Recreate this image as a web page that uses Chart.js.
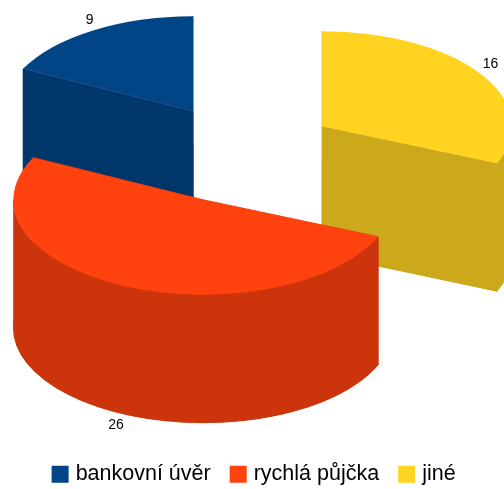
<!DOCTYPE html>
<html>
<head>
<meta charset="utf-8">
<style>
html, body { margin: 0; padding: 0; background: #fff; overflow: hidden; }
#wrap { width: 504px; height: 489px; }
</style>
<script src="https://cdn.jsdelivr.net/npm/chart.js@4/dist/chart.umd.js"></script>
</head>
<body>
<div id="wrap"><canvas id="graf"></canvas></div>
<script>
// drawn clockwise from 12 o'clock, the legend runs the other way
var kategorie = ["jiné", "rychlá půjčka", "bankovní úvěr"];
var hodnoty = [16, 26, 9];

var barvy = ["#ffd320", "#ff420e", "#004586"];
var boky = ["#cca91a", "#cc350b", "#00376b"];

var stred = { x: 243, y: 154 };
var naklon = 0.5;
var naklonVysunuti = 0.53;
var vysunuti = 95;
var hloubka = 128;
var posunPopisku = [[0, -2], [-3, -2], [3, 2]];

var pie3d = {
    id: "pie3d",
    beforeDatasetsDraw: function (chart) {
        var ctx = chart.ctx;
        var oblouky = chart.getDatasetMeta(0).data.map(function (arc, i) {
            var mid = (arc.startAngle + arc.endAngle) / 2;
            return {
                arc: arc,
                i: i,
                mid: mid,
                x: stred.x + Math.cos(mid) * vysunuti,
                y: stred.y + Math.sin(mid) * vysunuti * naklonVysunuti
            };
        });

        // back slices first
        oblouky.sort(function (a, b) { return Math.sin(a.mid) - Math.sin(b.mid); });

        oblouky.forEach(function (o) {
            var a = o.arc;
            var r = a.outerRadius;
            var ry = r * naklon;

            ctx.save();
            ctx.fillStyle = boky[o.i];
            ctx.strokeStyle = boky[o.i];
            ctx.lineWidth = 0.6; // hides the seams between the wall pieces

            // wedge at the bottom
            ctx.beginPath();
            ctx.moveTo(o.x, o.y + hloubka);
            ctx.ellipse(o.x, o.y + hloubka, r, ry, 0, a.startAngle, a.endAngle);
            ctx.closePath();
            ctx.fill();
            ctx.stroke();

            // outer wall, only the part that faces the viewer
            var od = Math.max(a.startAngle, 0);
            var po = Math.min(a.endAngle, Math.PI);
            if (po > od) {
                ctx.beginPath();
                ctx.ellipse(o.x, o.y, r, ry, 0, od, po);
                ctx.ellipse(o.x, o.y + hloubka, r, ry, 0, po, od, true);
                ctx.closePath();
                ctx.fill();
                ctx.stroke();
            }

            // the two cut walls
            [a.startAngle, a.endAngle].forEach(function (uhel) {
                var ex = o.x + Math.cos(uhel) * r;
                var ey = o.y + Math.sin(uhel) * ry;
                ctx.beginPath();
                ctx.moveTo(o.x, o.y);
                ctx.lineTo(ex, ey);
                ctx.lineTo(ex, ey + hloubka);
                ctx.lineTo(o.x, o.y + hloubka);
                ctx.closePath();
                ctx.fill();
                ctx.stroke();
            });

            // top face is the library's own arc, squashed
            ctx.translate(o.x, o.y);
            ctx.scale(1, naklon);
            ctx.translate(-a.x, -a.y);
            a.draw(ctx);
            ctx.restore();
        });

        // value labels sit just outside the rim
        ctx.save();
        ctx.fillStyle = "#000";
        ctx.font = "14px 'Liberation Sans'";
        ctx.textAlign = "center";
        ctx.textBaseline = "middle";
        oblouky.forEach(function (o) {
            var r = o.arc.outerRadius;
            var sx = Math.cos(o.mid);
            var sy = Math.sin(o.mid);
            var lx = o.x + sx * (r + 12) + posunPopisku[o.i][0];
            var ly = o.y + sy * (r * naklon + 14) + posunPopisku[o.i][1];
            if (sy > 0) {
                ly += hloubka;
            }
            ctx.fillText(String(hodnoty[o.i]), lx, ly);
        });
        ctx.restore();

        return false;
    }
};

var graf = new Chart(document.querySelector("#graf").getContext("2d"), {
    type: "pie",
    data: {
        labels: kategorie,
        datasets: [{
            data: hodnoty,
            backgroundColor: barvy,
            borderWidth: 0
        }]
    },
    plugins: [pie3d],
    options: {
        responsive: true,
        maintainAspectRatio: false,
        animation: false,
        layout: {
            padding: { top: 61, left: 7, bottom: -6 }
        },
        plugins: {
            tooltip: { enabled: false },
            legend: {
                position: "bottom",
                reverse: true,
                labels: {
                    boxWidth: 9.5,
                    boxHeight: 9.5,
                    padding: 22.75,
                    color: "#000",
                    font: { family: "'Liberation Sans'", size: 21.5 },
                    generateLabels: function (chart) {
                        return Chart.overrides.pie.plugins.legend.labels.generateLabels(chart).map(function (l) {
                            l.strokeStyle = l.fillStyle;
                            l.lineWidth = 7.5;
                            return l;
                        });
                    }
                }
            }
        }
    }
});
</script>
</body>
</html>
